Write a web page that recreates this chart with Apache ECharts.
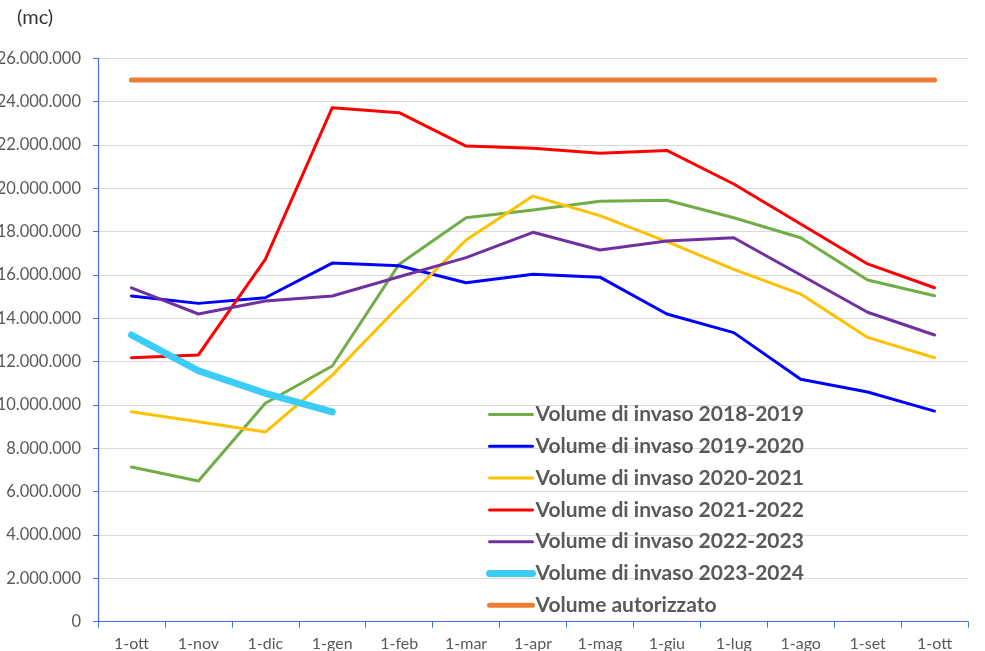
<!DOCTYPE html>
<html>
<head>
<meta charset="utf-8">
<script src="https://cdn.jsdelivr.net/npm/echarts@6/dist/echarts.min.js"></script>
<style>html,body{margin:0;padding:0;background:#fff}#c{width:985px;height:651px}</style>
</head>
<body>
<div id="c"></div>
<script>
const categories = ['1-ott','1-nov','1-dic','1-gen','1-feb','1-mar','1-apr','1-mag','1-giu','1-lug','1-ago','1-set','1-ott'];
const v2018_2019 = [7140000, 6490000, 10080000, 11800000, 16500000, 18640000, 19000000, 19400000, 19450000, 18640000, 17720000, 15770000, 15040000];
const v2019_2020 = [15030000, 14690000, 14950000, 16550000, 16430000, 15640000, 16030000, 15900000, 14200000, 13340000, 11190000, 10600000, 9720000];
const v2020_2021 = [9690000, 9230000, 8750000, 11380000, 14570000, 17610000, 19640000, 18740000, 17540000, 16260000, 15120000, 13120000, 12180000];
const v2021_2022 = [12180000, 12310000, 16720000, 23720000, 23490000, 21950000, 21850000, 21620000, 21750000, 20200000, 18350000, 16510000, 15410000];
const v2022_2023 = [15410000, 14200000, 14800000, 15030000, 15920000, 16800000, 17970000, 17150000, 17570000, 17720000, 16000000, 14280000, 13230000];
const v2023_2024 = [13230000, 11580000, 10540000, 9680000];
const vAutorizzato = [25000000, 25000000, 25000000, 25000000, 25000000, 25000000, 25000000, 25000000, 25000000, 25000000, 25000000, 25000000, 25000000];
const seriesNames = ['Volume di invaso 2018-2019','Volume di invaso 2019-2020','Volume di invaso 2020-2021','Volume di invaso 2021-2022','Volume di invaso 2022-2023','Volume di invaso 2023-2024','Volume autorizzato'];
const yTicks = {min: 0, max: 26000000, interval: 2000000};

const colors = ['#70AD47','#0000FF','#FFC000','#FF0000','#7030A0','#3CCDF6','#ED7D31'];
const widths = [3,3,3,3,3,7,5];
const datas = [v2018_2019, v2019_2020, v2020_2021, v2021_2022, v2022_2023, v2023_2024, vAutorizzato];
const axisBlue = '#3F6FE0';

const chart = echarts.init(document.getElementById('c'), null, {renderer:'canvas'});
chart.setOption({
  animation: false,
  backgroundColor: '#fff',
  grid: {left: 98, right: 17, top: 58.3, bottom: 29.3, containLabel: false, outerBoundsMode: 'none'},
  graphic: [{type:'text', left: 17, top: 8, style:{text:'(mc)', fontSize: 20, fill:'#333', fontFamily:'Lato'}}],
  legend: {
    orient: 'vertical', left: 486, top: 404, padding: 0, itemWidth: 43, itemHeight: 14, itemGap: 10.8,
    itemStyle: {opacity: 0},
    lineStyle: {width: 'inherit'},
    textStyle: {fontSize: 21, lineHeight: 20, fontWeight: 'bold', color: '#595959', fontFamily: 'Lato', padding:[0,0,0,-2]},
    data: seriesNames
  },
  xAxis: {
    type: 'category', data: categories, boundaryGap: true,
    axisLine: {lineStyle: {color: axisBlue, width: 1.2}},
    axisTick: {show: true, alignWithLabel: false, length: 6, lineStyle:{color: axisBlue}},
    axisLabel: {color: '#595959', fontSize: 16, margin: 14, fontFamily: 'Lato', interval: 0},
    splitLine: {show: false}
  },
  yAxis: {
    type: 'value', min: yTicks.min, max: yTicks.max, interval: yTicks.interval,
    axisLine: {show: true, lineStyle: {color: axisBlue, width: 1.2}},
    axisTick: {show: true, length: 5, lineStyle:{color: axisBlue}},
    axisLabel: {color: '#595959', fontSize: 16.5, margin: 17, fontFamily: 'Lato',
      formatter: v => String(Math.round(v)).replace(/\B(?=(\d{3})+(?!\d))/g, '.')},
    splitLine: {show: true, lineStyle: {color: '#D9D9D9', width: 1}}
  },
  series: seriesNames.map((n,i) => ({
    name: n, type: 'line', data: datas[i], symbol: 'none', smooth: false,
    color: colors[i],
    lineStyle: {color: colors[i], width: widths[i], cap: 'round', join: 'round'},
    z: i === 6 ? 1 : 2 + i
  }))
});
</script>
</body>
</html>
